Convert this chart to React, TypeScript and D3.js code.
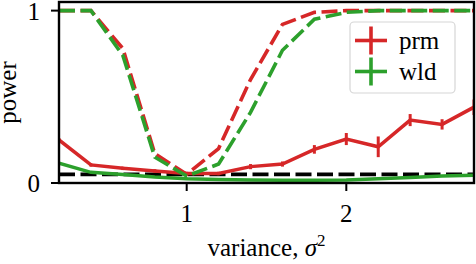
import React from "react";
import * as d3 from "d3";

const variance = [0.2, 0.4, 0.6, 0.8, 1.0, 1.2, 1.4, 1.6, 1.8, 2.0, 2.2, 2.4, 2.6, 2.8];
const prmPower = [0.25, 0.105, 0.085, 0.07, 0.055, 0.055, 0.095, 0.11, 0.195, 0.255, 0.21, 0.365, 0.34, 0.44];
const prmErr = [0.01, 0.01, 0.01, 0.01, 0.01, 0.01, 0.015, 0.015, 0.025, 0.035, 0.06, 0.035, 0.03, 0.045];
const wldPower = [0.115, 0.062, 0.05, 0.035, 0.025, 0.02, 0.017, 0.016, 0.016, 0.018, 0.025, 0.032, 0.04, 0.045];
const prmPowerAlt = [1.0, 1.0, 0.78, 0.17, 0.05, 0.2, 0.6, 0.92, 0.99, 1.0, 1.0, 1.0, 1.0, 1.0];
const wldPowerAlt = [1.0, 1.0, 0.74, 0.15, 0.04, 0.11, 0.41, 0.77, 0.95, 0.99, 1.0, 1.0, 1.0, 1.0];
const alpha = 0.05;
const xTicks = [1, 2];
const yTicks = [0, 1];
const legendItems = ["prm", "wld"];

const RED = "#d62728";
const GREEN = "#2ca02c";
const DASH = "16,5.5";
const txt = { fontFamily: "'Liberation Serif'", fontSize: 25 };

const width = 476;
const height = 264;
const left = 59, right = 474, top = 2, bottom = 183;

const x = d3.scaleLinear().domain([0.2, 2.8]).range([left, right]);
const y = d3.scaleLinear().domain([0, 1.05]).range([bottom, top]);

const line = (vals: number[]) =>
  d3.line<number>().x((d, i) => x(variance[i])).y(d => y(d))(vals) || "";

const App = () => {
  const colors = [RED, GREEN];
  return (
    <svg width={width} height={height} style={{ position: "absolute", left: 0, top: 0 }}>
      <defs>
        <clipPath id="plot-clip">
          <rect x={left} y={top} width={right - left} height={bottom - top} />
        </clipPath>
      </defs>

      <g clipPath="url(#plot-clip)">
        {/* significance level */}
        <line x1={left} x2={right} y1={y(alpha)} y2={y(alpha)}
          stroke="#000" strokeWidth={3.8} strokeDasharray={DASH} />
        <path d={line(prmPower)} fill="none" stroke={RED} strokeWidth={3.5} />
        {prmPower.map((d, i) => (
          <line key={i} x1={x(variance[i])} x2={x(variance[i])}
            y1={y(d - prmErr[i])} y2={y(d + prmErr[i])} stroke={RED} strokeWidth={3} />
        ))}
        <path d={line(wldPower)} fill="none" stroke={GREEN} strokeWidth={3.5} />
        <path d={line(prmPowerAlt)} fill="none" stroke={RED} strokeWidth={3.6} strokeDasharray={DASH} />
        <path d={line(wldPowerAlt)} fill="none" stroke={GREEN} strokeWidth={3.6} strokeDasharray={DASH} />
      </g>

      {/* frame */}
      <rect x={left} y={top} width={right - left} height={bottom - top}
        fill="none" stroke="#000" strokeWidth={2.4} />

      {xTicks.map(t => (
        <g key={"x" + t}>
          <line x1={x(t)} x2={x(t)} y1={bottom} y2={bottom + 8} stroke="#000" strokeWidth={2} />
          <text x={x(t)} y={bottom + 39} textAnchor="middle" style={txt}>{t}</text>
        </g>
      ))}
      {yTicks.map(t => (
        <g key={"y" + t}>
          <line x1={left - 8} x2={left} y1={y(t)} y2={y(t)} stroke="#000" strokeWidth={2} />
          <text x={left - 19} y={y(t) + 9} textAnchor="end" style={txt}>{t}</text>
        </g>
      ))}

      <text x={(left + right) / 2} y={256} textAnchor="middle" style={txt}>
        <tspan>variance, </tspan>
        <tspan fontStyle="italic">σ</tspan>
        <tspan dy={-10} style={{ fontSize: 17 }}>2</tspan>
      </text>

      <text transform={`translate(16,${(top + bottom) / 2}) rotate(-90)`} textAnchor="middle" style={txt}>
        power
      </text>

      {/* legend */}
      <rect x={350} y={22} width={105} height={71} rx={4}
        fill="rgba(255,255,255,0.8)" stroke="#d6d6d6" strokeWidth={1.2} />
      {legendItems.map((name, i) => {
        const cy = 40.5 + i * 31;
        return (
          <g key={name}>
            <line x1={355} x2={387} y1={cy} y2={cy} stroke={colors[i]} strokeWidth={3.6} />
            <line x1={371} x2={371} y1={cy - 14} y2={cy + 14} stroke={colors[i]} strokeWidth={3.6} />
            <text x={399} y={cy + 8} style={txt}>{name}</text>
          </g>
        );
      })}
    </svg>
  );
};

export default App;
